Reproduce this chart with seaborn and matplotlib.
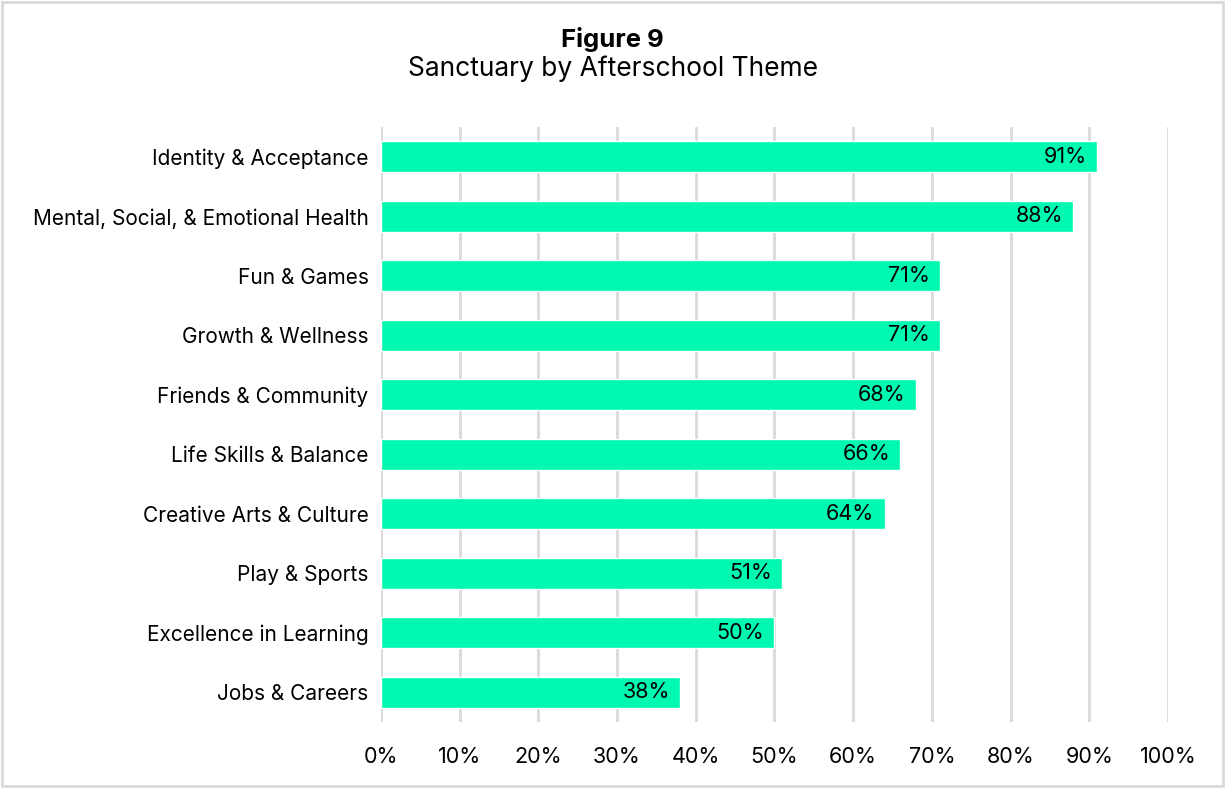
import matplotlib
matplotlib.use("Agg")
import matplotlib.pyplot as plt
import seaborn as sns
import pandas as pd
from matplotlib.patches import Rectangle

categories = ["Identity & Acceptance", "Mental, Social, & Emotional Health", "Fun & Games",
              "Growth & Wellness", "Friends & Community", "Life Skills & Balance",
              "Creative Arts & Culture", "Play & Sports", "Excellence in Learning", "Jobs & Careers"]
values = [91, 88, 71, 71, 68, 66, 64, 51, 50, 38]
xticks = [0, 10, 20, 30, 40, 50, 60, 70, 80, 90, 100]
xtick_labels = [f"{t}%" for t in xticks]

df = pd.DataFrame({"cat": categories, "val": values})

sns.set_theme(style="white")
plt.rcParams['font.family'] = ['Inter', 'DejaVu Sans']
plt.rcParams['text.color'] = '#000000'

fig = plt.figure(figsize=(12.25, 7.88), dpi=100)
ax = fig.add_axes([0.311, 0.0838, 0.6424, 0.7550])

sns.barplot(data=df, y="cat", x="val", color="#00F9B0", saturation=1, width=0.52, ax=ax, zorder=3)

ax.set_xlim(0, 100)
ax.set_ylim(9.5, -0.5)
ax.set_xticks(xticks)
ax.set_xticklabels(xtick_labels, fontsize=15.5, color="#000000")
ax.tick_params(axis="y", labelsize=15, colors="#000000", length=0, pad=9)
ax.tick_params(axis="x", length=0, pad=18)
ax.set_xlabel("")
ax.set_ylabel("")
ax.grid(axis="x", color="#d9d9d9", linewidth=2, zorder=0)
for s in ax.spines.values():
    s.set_visible(False)

for i, v in enumerate(values):
    ax.text(v - 1.3, i, f"{v}%", ha="right", va="center", fontsize=15.5, color="#000000", zorder=4)

fig.text(0.5, 0.950, "Figure 9", ha="center", va="center", fontsize=18.5, fontweight="bold", color="#000000")
fig.text(0.5, 0.913, "Sanctuary by Afterschool Theme", ha="center", va="center", fontsize=19, color="#000000")

fig.patches.append(Rectangle((0.002, 0.003), 0.996, 0.994, transform=fig.transFigure,
                             fill=False, edgecolor="#d9d9d9", linewidth=2))

fig.savefig("out.png", dpi=100)
